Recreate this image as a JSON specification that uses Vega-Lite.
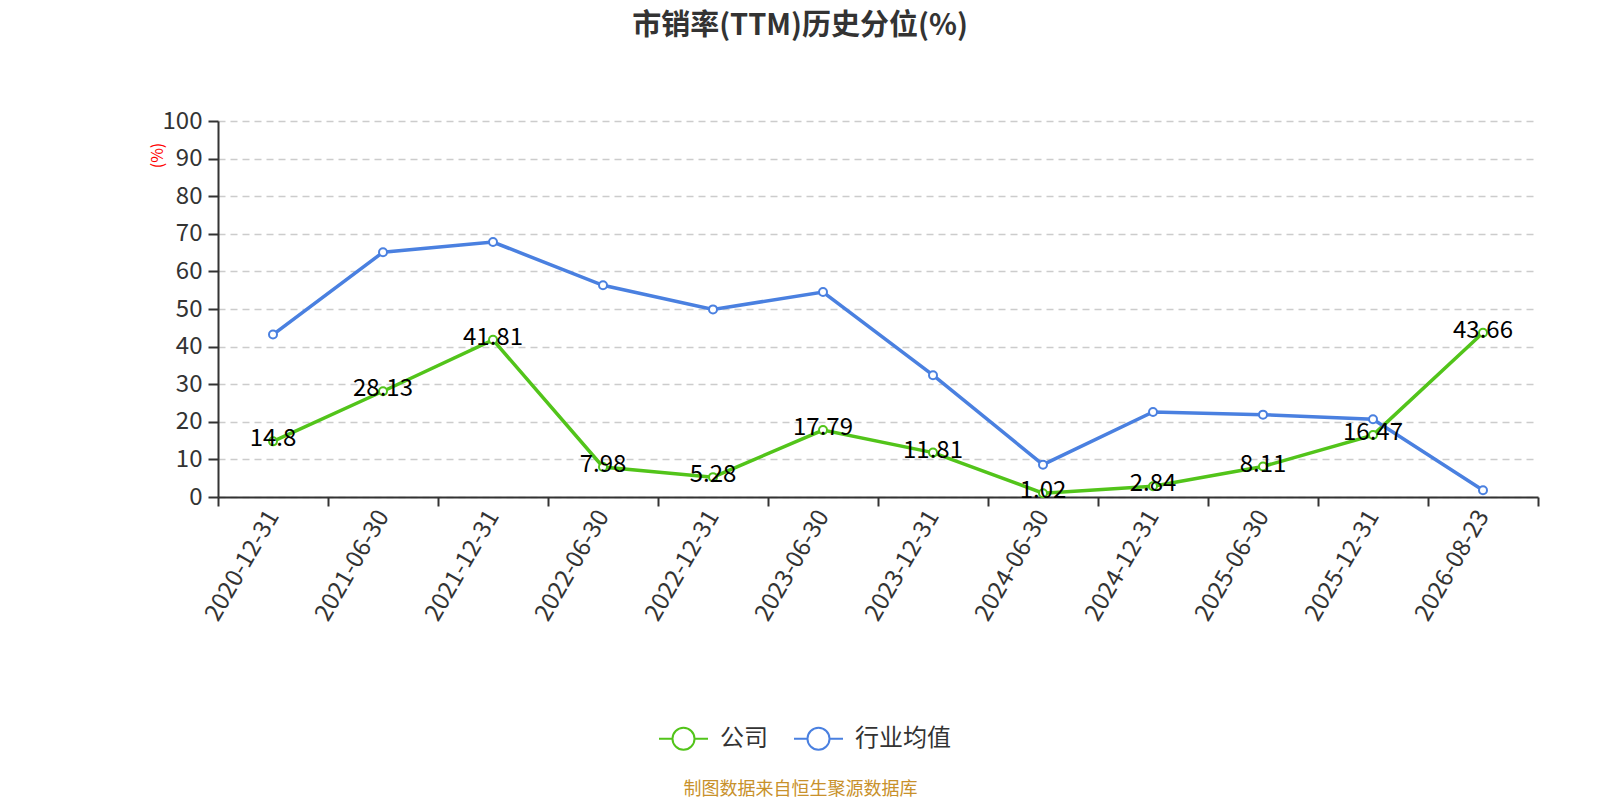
{
  "$schema": "https://vega.github.io/schema/vega-lite/v6.json",
  "autosize": {"type": "none"},
  "width": 1320,
  "height": 376,
  "padding": {"left": 218, "top": 121, "right": 62, "bottom": 303},
  "background": "white",
  "config": {"font": "Noto Sans CJK SC", "view": {"stroke": null}},
  "title": {"text": "市销率(TTM)历史分位(%)", "fontSize": 29, "fontWeight": "bold", "color": "#333333", "anchor": "middle", "dx": -78, "offset": 68},
  "data": {"values": [
    {"date": "2020-12-31", "series": "公司", "value": 14.8},
    {"date": "2021-06-30", "series": "公司", "value": 28.13},
    {"date": "2021-12-31", "series": "公司", "value": 41.81},
    {"date": "2022-06-30", "series": "公司", "value": 7.98},
    {"date": "2022-12-31", "series": "公司", "value": 5.28},
    {"date": "2023-06-30", "series": "公司", "value": 17.79},
    {"date": "2023-12-31", "series": "公司", "value": 11.81},
    {"date": "2024-06-30", "series": "公司", "value": 1.02},
    {"date": "2024-12-31", "series": "公司", "value": 2.84},
    {"date": "2025-06-30", "series": "公司", "value": 8.11},
    {"date": "2025-12-31", "series": "公司", "value": 16.47},
    {"date": "2026-08-23", "series": "公司", "value": 43.66},
    {"date": "2020-12-31", "series": "行业均值", "value": 43.2},
    {"date": "2021-06-30", "series": "行业均值", "value": 65.1},
    {"date": "2021-12-31", "series": "行业均值", "value": 67.8},
    {"date": "2022-06-30", "series": "行业均值", "value": 56.3},
    {"date": "2022-12-31", "series": "行业均值", "value": 49.9},
    {"date": "2023-06-30", "series": "行业均值", "value": 54.5},
    {"date": "2023-12-31", "series": "行业均值", "value": 32.4},
    {"date": "2024-06-30", "series": "行业均值", "value": 8.6},
    {"date": "2024-12-31", "series": "行业均值", "value": 22.6},
    {"date": "2025-06-30", "series": "行业均值", "value": 21.9},
    {"date": "2025-12-31", "series": "行业均值", "value": 20.7},
    {"date": "2026-08-23", "series": "行业均值", "value": 1.8}
  ]},
  "encoding": {
    "x": {
      "field": "date", "type": "ordinal", "sort": null,
      "scale": {"type": "band", "paddingInner": 0, "paddingOuter": 0},
      "axis": {
        "labelAngle": -60, "labelFontSize": 24, "labelColor": "#333333", "labelPadding": 6,
        "domainColor": "#333333", "domainWidth": 2,
        "tickColor": "#333333", "tickWidth": 2, "tickSize": 9, "tickBand": "extent",
        "grid": false,
        "title": "制图数据来自恒生聚源数据库", "titleColor": "#c8912b", "titleFontSize": 18, "titleFontWeight": "normal",
        "titleX": 582, "titleY": 292, "titleAlign": "center", "titleBaseline": "middle", "titleAngle": 0
      }
    },
    "y": {
      "field": "value", "type": "quantitative",
      "scale": {"domain": [0, 100], "nice": false, "zero": true},
      "axis": {
        "values": [0, 10, 20, 30, 40, 50, 60, 70, 80, 90, 100],
        "labelFontSize": 24, "labelColor": "#333333", "labelPadding": 6,
        "domainColor": "#333333", "domainWidth": 2,
        "tickColor": "#333333", "tickWidth": 2, "tickSize": 10,
        "grid": true, "gridColor": "#cccccc", "gridDash": [7, 5], "gridWidth": 1.5,
        "title": "(%)", "titleColor": "red", "titleFontSize": 16, "titleFontWeight": "normal",
        "titleX": -61, "titleY": 34, "titleAlign": "center", "titleBaseline": "middle", "titleAngle": -90
      }
    }
  },
  "layer": [
    {
      "mark": {"type": "line", "strokeWidth": 3.5},
      "encoding": {
        "color": {
          "field": "series", "type": "nominal",
          "scale": {"domain": ["公司", "行业均值"], "range": ["#52c41a", "#4a80e0"]},
          "legend": {
            "title": null, "orient": "none", "direction": "horizontal", "columns": 2,
            "legendX": 440, "legendY": 592, "padding": 0,
            "symbolType": "M-1,0L-0.45,0M0.45,0L1,0M-0.45,0A0.45,0.45,0,1,1,0.45,0A0.45,0.45,0,1,1,-0.45,0",
            "symbolSize": 2401, "symbolStrokeWidth": 2, "symbolFillColor": "white",
            "labelFontSize": 24, "labelColor": "#333333", "labelOffset": 11, "columnPadding": 22
          }
        }
      }
    },
    {
      "mark": {"type": "point", "filled": true, "fill": "white", "size": 64, "strokeWidth": 2, "opacity": 1},
      "encoding": {
        "stroke": {
          "field": "series", "type": "nominal",
          "scale": {"domain": ["公司", "行业均值"], "range": ["#52c41a", "#4a80e0"]},
          "legend": null
        }
      }
    },
    {
      "transform": [{"filter": "datum.series === '公司'"}],
      "mark": {"type": "text", "fontSize": 24, "color": "#000000", "baseline": "middle", "align": "center", "dy": -2},
      "encoding": {"text": {"field": "value", "type": "quantitative"}}
    }
  ]
}
